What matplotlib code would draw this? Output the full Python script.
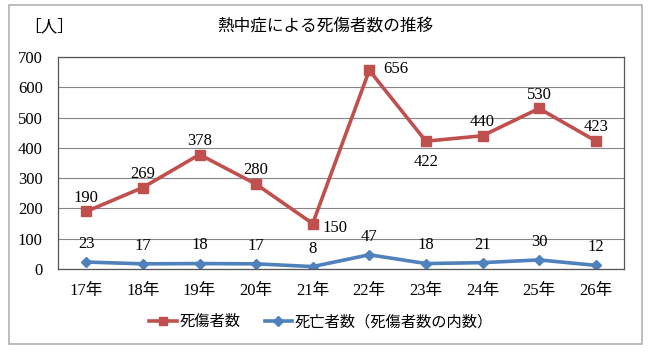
import matplotlib
matplotlib.use("Agg")
import matplotlib.pyplot as plt
from matplotlib.patches import Rectangle

plt.rcParams['font.family'] = ['Liberation Serif', 'Noto Sans CJK JP']

years = ["17年", "18年", "19年", "20年", "21年", "22年", "23年", "24年", "25年", "26年"]
casualties = [190, 269, 378, 280, 150, 656, 422, 440, 530, 423]
deaths = [23, 17, 18, 17, 8, 47, 18, 21, 30, 12]
# label placement for the red series: offset in points
red_offsets = [(0, 10), (0, 10), (0, 10), (0, 10), (16, -3), (19, 1), (0, -15), (0, 10), (0, 10), (0, 10)]

red = "#C0504D"
blue = "#4F81BD"

fig = plt.figure(figsize=(6.5, 3.52), dpi=100)
fig.patches.append(Rectangle((9 / 650, 1 - 344 / 352), 633 / 650, 339 / 352,
                             transform=fig.transFigure, fill=False,
                             edgecolor="#b0b0b0", linewidth=1.2))
ax = fig.add_axes([58 / 650, 1 - 269 / 352, 566 / 650, 212 / 352])

x = list(range(len(years)))
ax.plot(x, casualties, color=red, linewidth=2.6, marker="s", markersize=7.5,
        label="死傷者数")
ax.plot(x, deaths, color=blue, linewidth=2.6, marker="D", markersize=5.5,
        label="死亡者数（死傷者数の内数）")

for xi, v, off in zip(x, casualties, red_offsets):
    ax.annotate(str(v), (xi, v), xytext=off, textcoords="offset points",
                ha="center", va="center", fontsize=12)
for xi, v in zip(x, deaths):
    ax.annotate(str(v), (xi, v), xytext=(0, 13), textcoords="offset points",
                ha="center", va="center", fontsize=12)

ax.set_xlim(-0.5, len(years) - 0.5)
ax.set_ylim(0, 700)
ax.set_yticks(range(0, 701, 100))
ax.set_xticks(x)
ax.set_xticklabels(years)
ax.tick_params(axis="both", length=0, labelsize=12)
ax.tick_params(axis="x", pad=10)
ax.tick_params(axis="y", pad=11)
ax.grid(axis="y", color="#868686", linewidth=0.8)
ax.set_axisbelow(True)
for s in ax.spines.values():
    s.set_color("#555555")
    s.set_linewidth(0.9)

fig.text(325 / 650, 1 - 27 / 352, "熱中症による死傷者数の推移", ha="center", va="center",
         fontsize=12)
fig.text(49 / 650, 1 - 27 / 352, "［人］", ha="center", va="center", fontsize=12)

fig.legend(loc="center", bbox_to_anchor=(321 / 650, 1 - 322 / 352), ncol=2,
           frameon=False, fontsize=11, handlelength=1.8, handletextpad=0.15,
           columnspacing=1.6, markerscale=0.85)

plt.savefig("out.png", dpi=100)
